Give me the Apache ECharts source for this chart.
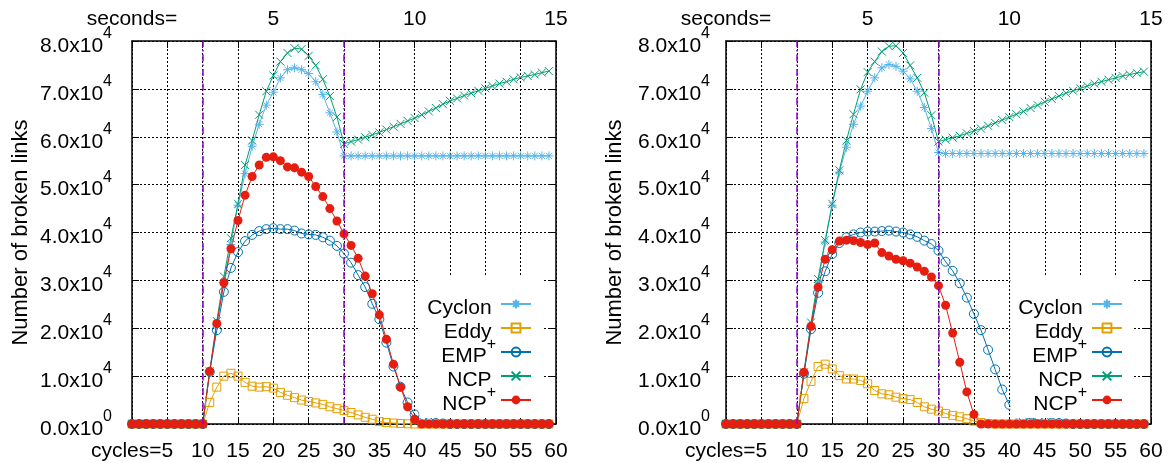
<!DOCTYPE html>
<html><head><meta charset="utf-8">
<script src="https://cdn.jsdelivr.net/npm/echarts@6/dist/echarts.min.js"></script>
<style>html,body{margin:0;padding:0;background:#fff}#c{width:1170px;height:463px}</style>
</head><body><div id="c"></div>
<script>
// ---------------- data ----------------
const cycles = [0,1,2,3,4,5,6,7,8,9,10,11,12,13,14,15,16,17,18,19,20,21,22,23,24,25,26,27,28,29,30,31,32,33,34,35,36,37,38,39,40,41,42,43,44,45,46,47,48,49,50,51,52,53,54,55,56,57,58,59];
const seriesNames = ['Cyclon','Eddy','EMP+','NCP','NCP+'];

// left panel
const leftCyclon = [0,0,0,0,0,0,0,0,0,0,0, 11000,20500,29500,37500,45700,52300,58000,62600,66600,69300,72300,74000,74400,74000,73200,71500,68800,65000,61000,56000,
 56000,56000,56000,56000,56000,56000,56000,56000,56000,56000,56000,56000,56000,56000,56000,56000,56000,56000,56000,56000,56000,56000,56000,56000,56000,56000,56000,56000,56000];
const leftEddy = [0,0,0,0,0,0,0,0,0,0,0, 4500,7700,10000,10600,10000,8700,7900,7700,7800,7500,6600,6000,5500,5000,4700,4400,4100,3600,3200,2800,2400,1900,1400,1000,500,300,200,100,50,
 0,0,0,0,0,0,0,0,0,0,0,0,0,0,0,0,0,0,0,0];
const leftEMPp = [0,0,0,0,0,0,0,0,0,0,0, 10900,19600,27600,32600,35900,38200,39500,40300,40700,40900,40700,40700,40400,39800,39600,39500,39000,38300,37200,35600,33700,31100,28600,25100,21900,17000,12000,7800,4500,2000,900,400,200,100,
 0,0,0,0,0,0,0,0,0,0,0,0,0,0,0];
const leftNCP = [0,0,0,0,0,0,0,0,0,0,0, 11000,21500,30800,38800,46000,54100,59200,64600,69500,72800,75700,77500,78500,78300,76900,74900,72000,68500,64100,58500,
 59000,59400,59900,60400,60900,61500,62100,62700,63300,63900,64600,65300,66000,66800,67500,68000,68600,69100,69600,70100,70600,71100,71500,72000,72400,72700,73000,73400,73700];
const leftNCPp = [0,0,0,0,0,0,0,0,0,0,0, 11000,21000,29500,36600,42500,47800,51700,54100,55700,55800,55000,53700,53500,52600,51700,49600,47500,45000,42400,39700,37300,34600,30900,27200,22800,17700,12500,7700,3600,1000,
 0,0,0,0,0,0,0,0,0,0,0,0,0,0,0,0,0,0,0];

// right panel
const rightCyclon = [0,0,0,0,0,0,0,0,0,0,0, 10500,20500,29500,38000,45700,52600,57800,62600,66400,69500,72300,74400,75100,74700,73700,72100,69500,66100,61700,56700,
 56500,56500,56500,56500,56500,56500,56500,56500,56500,56500,56500,56500,56500,56500,56500,56500,56500,56500,56500,56500,56500,56500,56500,56500,56500,56500,56500,56500,56500];
const rightEddy = [0,0,0,0,0,0,0,0,0,0,0, 5300,8900,12000,12500,11500,10100,9400,9400,9100,8400,7000,6300,6100,5600,5300,5100,4500,3600,3100,2700,2200,1800,1500,1100,600,300,100,
 0,0,0,0,0,0,0,0,0,0,0,0,0,0,0,0,0,0,0,0,0,0];
const rightEMPp = [0,0,0,0,0,0,0,0,0,0,0, 10500,19800,27400,31900,35500,37800,39000,39600,40000,40200,40200,40300,40400,40200,40000,39600,39100,38300,37600,36200,33900,32000,29400,26400,23000,19600,15500,11400,7200,4000,2200,1500,1100,900,500,300,200,100,
 0,0,0,0,0,0,0,0,0,0,0];
const rightNCP = [0,0,0,0,0,0,0,0,0,0,0, 10800,21200,30300,38400,46000,53000,59200,64700,69900,73500,75700,77800,78900,79000,77500,74900,72300,69200,64500,59000,
 59400,59800,60200,60700,61200,61700,62300,62900,63500,64100,64700,65300,66000,66600,67300,67900,68500,69100,69600,70100,70600,71100,71500,71900,72300,72700,73000,73300,73600];
const rightNCPp = [0,0,0,0,0,0,0,0,0,0,0, 10800,20400,28600,34400,36400,38200,38400,38300,37900,37500,37800,35800,35100,34400,34100,33600,32800,31900,30700,28900,24800,19000,12900,6700,2000,
 0,0,0,0,0,0,0,0,0,0,0,0,0,0,0,0,0,0,0,0,0,0,0,0];

// phase boundaries (cycles)
const phaseLines = [10, 30];

// tick labels
const bottomTickValues = [5,10,15,20,25,30,35,40,45,50,55,60];
const bottomTickLabels = ['5','10','15','20','25','30','35','40','45','50','55','60'];
const bottomPrefix = 'cycles=';
const topTickValues = [0,20,40,60];
const topTickLabels = ['seconds=','5','10','15'];
const yTickValues = [0,10000,20000,30000,40000,50000,60000,70000,80000];
const yTickMant = ['0.0x10','1.0x10','2.0x10','3.0x10','4.0x10','5.0x10','6.0x10','7.0x10','8.0x10'];
const yTickExp = ['0','4','4','4','4','4','4','4','4'];
const yAxisTitle = 'Number of broken links';

// ---------------- chart ----------------
const FONT = '"Liberation Sans", Arial, sans-serif';
const FS = 21;
const ctx = document.createElement('canvas').getContext('2d');
ctx.font = FS + 'px ' + FONT;
const prefixW = ctx.measureText(bottomPrefix).width;

const styles = {
  'Cyclon': {color:'#56B4E9', symbol:'path://M5 0V10M0 5H10M1.6 1.6L8.4 8.4M8.4 1.6L1.6 8.4', size:9, fill:false},
  'Eddy':   {color:'#E69F00', symbol:'path://M0 0H10V10H0Z', size:8, fill:false},
  'EMP+':   {color:'#0072B2', symbol:'circle', size:9, fill:false},
  'NCP':    {color:'#009E73', symbol:'path://M0 0L10 10M10 0L0 10', size:8, fill:false},
  'NCP+':   {color:'#E51E10', symbol:'circle', size:9, fill:true}
};

function pairs(vals){ return cycles.map((c,i)=>[c, vals[i]]); }

function mkSeries(name, vals, panel, withLines){
  const st = styles[name];
  const s = {
    type:'line', name, xAxisIndex: panel*2, yAxisIndex: panel*2,
    data: pairs(vals), symbol: st.symbol, symbolSize: st.size, showSymbol:true,
    showAllSymbol:true, animation:false, silent:true, clip:true,
    lineStyle:{color:st.color, width:1},
    itemStyle:{color: st.fill ? st.color : 'rgba(0,0,0,0)', borderColor: st.color, borderWidth: st.fill?0:1},
    emphasis:{disabled:true}
  };
  if (withLines){
    s.markLine = {silent:true, symbol:['none','none'], label:{show:false}, animation:false,
      lineStyle:{color:'#9400D3', type:[7,3,1.5,3], width:1.5},
      data: phaseLines.map(v=>({xAxis:v}))};
  }
  return s;
}

const sets = [
  [leftCyclon, leftEddy, leftEMPp, leftNCP, leftNCPp],
  [rightCyclon, rightEddy, rightEMPp, rightNCP, rightNCPp]
];
const series = [];
sets.forEach((arr, p)=>{
  arr.forEach((vals, k)=> series.push(mkSeries(seriesNames[k], vals, p, k===0)));
});

const grids = [
  {left:132, top:41, width:424, height:383},
  {left:726, top:41, width:425, height:383}
];

const gridLine = {show:true, lineStyle:{color:'#000', width:1, type:[2,2]}};
const supRich = {
  m:{fontFamily:FONT, fontSize:FS, color:'#000', lineHeight:31, verticalAlign:'bottom'},
  e:{fontFamily:FONT, fontSize:16, color:'#000', lineHeight:16, verticalAlign:'top'}
};
const xAxes = [], yAxes = [];
grids.forEach((g, p)=>{
  xAxes.push({type:'value', gridIndex:p, position:'bottom', min:0, max:60, interval:5,
    axisLine:{show:true, onZero:false, lineStyle:{color:'#000', width:1.5}},
    axisTick:{show:true, inside:true, length:7, lineStyle:{color:'#000'}},
    splitLine: gridLine,
    axisLabel:{show:true, showMinLabel:true, showMaxLabel:true, margin:17, color:'#000', fontFamily:FONT, fontSize:FS,
      formatter:(v)=>{ const i = bottomTickValues.indexOf(v); if (i<0) return '';
        if (i===0) return '{p|'+bottomPrefix+'}'+bottomTickLabels[i]+'{sp| }';
        return bottomTickLabels[i]; },
      rich:{p:{fontFamily:FONT, fontSize:FS, color:'#000'}, sp:{width:prefixW, fontSize:FS}}}
  });
  xAxes.push({type:'value', gridIndex:p, position:'top', min:0, max:60, interval:5,
    axisLine:{show:true, onZero:false, lineStyle:{color:'#000', width:1.5}},
    axisTick:{show:true, inside:true, length:7, lineStyle:{color:'#000'}},
    splitLine:{show:false},
    axisLabel:{show:true, showMinLabel:true, showMaxLabel:true, margin:11, color:'#000', fontFamily:FONT, fontSize:FS,
      formatter:(v)=>{ const i = topTickValues.indexOf(v); return i<0 ? '' : topTickLabels[i]; }}
  });
  yAxes.push({type:'value', gridIndex:p, position:'left', min:0, max:80000, interval:10000,
    axisLine:{show:true, onZero:false, lineStyle:{color:'#000', width:1.5}},
    axisTick:{show:true, inside:true, length:7, lineStyle:{color:'#000'}},
    splitLine: gridLine,
    name: yAxisTitle, nameLocation:'middle', nameGap: 100,
    nameTextStyle:{fontFamily:FONT, fontSize:22, color:'#000'},
    axisLabel:{show:true, showMinLabel:true, showMaxLabel:true, margin: p===0?20:16, color:'#000',
      formatter:(v)=>{ const i = yTickValues.indexOf(v); return i<0 ? '' : '{m|'+yTickMant[i]+'}{e|'+yTickExp[i]+'}'; },
      rich: supRich}
  });
  yAxes.push({type:'value', gridIndex:p, position:'right', min:0, max:80000, interval:10000,
    axisLine:{show:true, onZero:false, lineStyle:{color:'#000', width:1.5}},
    axisTick:{show:true, inside:true, length:7, lineStyle:{color:'#000'}},
    splitLine:{show:false}, axisLabel:{show:false}
  });
});

function legendFor(rightPx){
  return {
    orient:'vertical', align:'right', right:rightPx, top:277, height:150,
    itemWidth:30, itemHeight:11, itemGap:-6, backgroundColor:'#fff',
    padding:[12,10,3,8], selectedMode:false, inactiveColor:'#000',
    data: seriesNames,
    formatter:(n)=> n.endsWith('+') ? '{m|'+n.slice(0,-1)+'}{e|+}' : '{m|'+n+'}{e| }',
    textStyle:{color:'#000', fontFamily:FONT, fontSize:FS, rich: {
      m:{fontFamily:FONT, fontSize:FS, color:'#000', lineHeight:30, verticalAlign:'bottom'},
      e:{fontFamily:FONT, fontSize:16, color:'#000', lineHeight:16, verticalAlign:'top'}}}
  };
}

const chart = echarts.init(document.getElementById('c'), null, {renderer:'canvas'});
chart.setOption({
  animation:false,
  backgroundColor:'#fff',
  textStyle:{fontFamily:FONT},
  grid: grids.map(g=>Object.assign({containLabel:false, show:false}, g)),
  xAxis: xAxes, yAxis: yAxes,
  legend: [legendFor(628), legendFor(37)],
  series
});
</script></body></html>
